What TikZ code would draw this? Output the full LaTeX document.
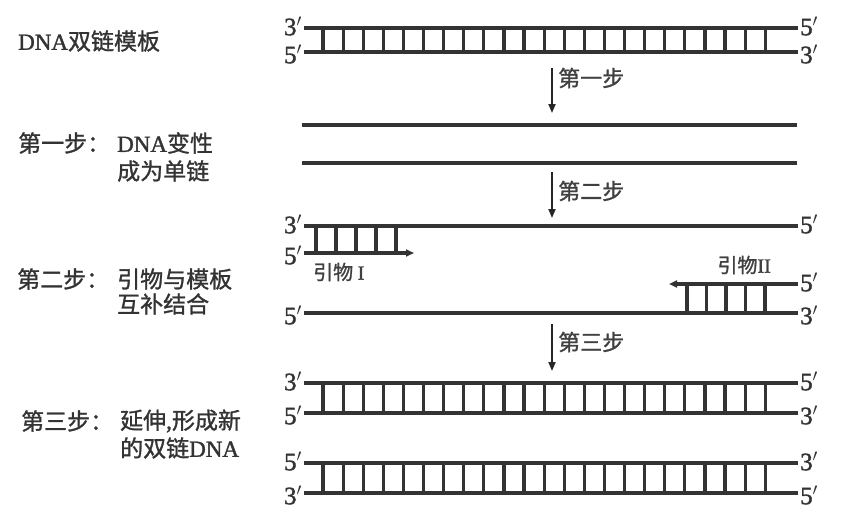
\documentclass[tikz,border=0pt]{standalone}
\usepackage{fontspec}
\setmainfont{Liberation Serif}
\newfontfamily\cjk[FakeBold=1.2]{Noto Sans CJK SC}
\newfontfamily\lat[FakeBold=1.5]{Liberation Serif}
\usetikzlibrary{arrows.meta}
\begin{document}
\begin{tikzpicture}[x=1pt,y=-1pt,
  strand/.style={line width=3.2pt,color=black!80},
  rung/.style={line width=3.2pt,color=black!80},
  stepar/.style={line width=1.8pt,color=black!85,-{Triangle[length=9pt,width=7pt]}},
  primar/.style={line width=3.2pt,color=black!80,-{Triangle[length=8pt,width=7pt]}},
  endlab/.style={font=\lat\fontsize{25}{25}\selectfont\color{black!80},inner sep=0pt},
  steplab/.style={font=\cjk\fontsize{22}{22}\selectfont\color{black!75},inner sep=0pt,anchor=west},
  lefttxt/.style={font=\cjk\fontsize{23}{23}\selectfont\color{black!80},inner sep=0pt,anchor=west},
  primlab/.style={font=\cjk\fontsize{20}{20}\selectfont\color{black!75},inner sep=0pt}
]
\useasboundingbox (0,0) rectangle (848,522);
\fill[white] (0,0) rectangle (848,522);

% ---------- template (top) ----------
\coordinate (a1) at (304,28); \coordinate (a2) at (798,28);
\coordinate (b1) at (304,52); \coordinate (b2) at (798,52);
\draw[strand] (a1) -- (a2);
\draw[strand] (b1) -- (b2);
\foreach \i in {0,...,22} {\draw[rung] (323+20.1*\i,28) -- (323+20.1*\i,52);}
\node[endlab,anchor=east] (la1) at (302,26) {3$'$};
\node[endlab,anchor=east] (lb1) at (302,54) {5$'$};
\node[endlab,anchor=west] (la2) at (800,26) {5$'$};
\node[endlab,anchor=west] (lb2) at (800,54) {3$'$};

% arrow step 1
\coordinate (s1t) at (552,68); \coordinate (s1b) at (552,113);
\draw[stepar] (s1t) -- (s1b);
\node[steplab] (s1l) at (558,78) {第一步};

% ---------- single strands ----------
\coordinate (c1) at (302,125); \coordinate (c2) at (797,125);
\coordinate (d1) at (302,163); \coordinate (d2) at (797,163);
\draw[strand] (c1) -- (c2);
\draw[strand] (d1) -- (d2);

% arrow step 2
\coordinate (s2t) at (552,172); \coordinate (s2b) at (552,218);
\draw[stepar] (s2t) -- (s2b);
\node[steplab] (s2l) at (558,191) {第二步};

% ---------- primers ----------
\coordinate (e1) at (304,226); \coordinate (e2) at (798,226);
\draw[strand] (e1) -- (e2);
\coordinate (p1a) at (304,253); \coordinate (p1b) at (414,253);
\draw[primar] (p1a) -- (p1b);
\foreach \i in {0,...,4} {\draw[rung] (316+20*\i,226) -- (316+20*\i,253);}
\node[endlab,anchor=east] (le1) at (302,224) {3$'$};
\node[endlab,anchor=east] (lp1) at (302,255) {5$'$};
\node[endlab,anchor=west] (le2) at (800,224) {5$'$};
\node[primlab,anchor=west] (pl1) at (313,272) {引物 \lat I};

\coordinate (f1) at (304,313); \coordinate (f2) at (798,313);
\draw[strand] (f1) -- (f2);
\coordinate (p2a) at (798,284); \coordinate (p2b) at (669,284);
\draw[primar] (p2a) -- (p2b);
\foreach \i in {0,...,4} {\draw[rung] (687+19.5*\i,284) -- (687+19.5*\i,313);}
\node[endlab,anchor=east] (lf1) at (302,315) {5$'$};
\node[endlab,anchor=west] (lp2) at (800,282) {5$'$};
\node[endlab,anchor=west] (lf2) at (800,315) {3$'$};
\node[primlab,anchor=east] (pl2) at (771,265) {引物\lat II};

% arrow step 3
\coordinate (s3t) at (552,324); \coordinate (s3b) at (552,371);
\draw[stepar] (s3t) -- (s3b);
\node[steplab] (s3l) at (558,342) {第三步};

% ---------- two new duplexes ----------
\coordinate (g1) at (304,383); \coordinate (g2) at (798,383);
\coordinate (h1) at (304,413); \coordinate (h2) at (798,413);
\draw[strand] (g1) -- (g2);
\draw[strand] (h1) -- (h2);
\foreach \i in {0,...,22} {\draw[rung] (323+20.1*\i,383) -- (323+20.1*\i,413);}
\node[endlab,anchor=east] (lg1) at (302,381) {3$'$};
\node[endlab,anchor=east] (lh1) at (302,415) {5$'$};
\node[endlab,anchor=west] (lg2) at (800,381) {5$'$};
\node[endlab,anchor=west] (lh2) at (800,415) {3$'$};

\coordinate (i1) at (304,463); \coordinate (i2) at (798,463);
\coordinate (j1) at (304,493); \coordinate (j2) at (798,493);
\draw[strand] (i1) -- (i2);
\draw[strand] (j1) -- (j2);
\foreach \i in {0,...,22} {\draw[rung] (323+20.1*\i,463) -- (323+20.1*\i,493);}
\node[endlab,anchor=east] (li1) at (302,461) {5$'$};
\node[endlab,anchor=east] (lj1) at (302,495) {3$'$};
\node[endlab,anchor=west] (li2) at (800,461) {3$'$};
\node[endlab,anchor=west] (lj2) at (800,495) {5$'$};

% ---------- left texts ----------
\node[lefttxt] (t0) at (18,41) {{\lat DNA}双链模板};
\node[lefttxt] (t1a) at (18,143) {第一步：};
\node[lefttxt] (t1b) at (117,143) {{\lat DNA}变性};
\node[lefttxt] (t1c) at (117,171) {成为单链};
\node[lefttxt] (t2a) at (17,279) {第二步：};
\node[lefttxt] (t2b) at (117,279) {引物与模板};
\node[lefttxt] (t2c) at (117,304) {互补结合};
\node[lefttxt] (t3a) at (21,421) {第三步：};
\node[lefttxt] (t3b) at (120,421) {延伸{\lat ,}形成新};
\node[lefttxt] (t3c) at (120,448) {的双链{\lat DNA}};
\end{tikzpicture}
\end{document}
